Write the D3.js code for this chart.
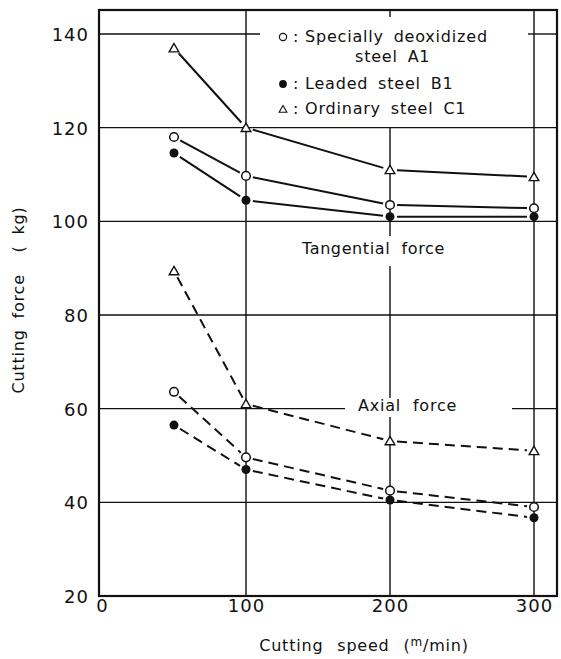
<!DOCTYPE html>
<html>
<head>
<meta charset="utf-8">
<script src="https://cdn.jsdelivr.net/npm/d3@7"></script>
<style>
  body { margin: 0; background: #fff; }
  text { font-family: "DejaVu Sans", sans-serif; fill: #111; white-space: pre; }
</style>
</head>
<body>
<div id="chart"></div>
<script>
// values
var speeds = [50, 100, 200, 300];
var tangA = [118, 109.7, 103.5, 102.8];
var tangB = [114.6, 104.5, 101, 101];
var tangC = [137, 120, 111, 109.5];
var axialA = [63.6, 49.6, 42.5, 39];
var axialB = [56.5, 47, 40.5, 36.7];
var axialC = [89.4, 61, 53.1, 51];
var xTicks = [0, 100, 200, 300];
var yTicks = [20, 40, 60, 80, 100, 120, 140];
var legendLabels = ["Specially deoxidized", "Leaded steel B1", "Ordinary steel C1"];

var svgWidth = 561, svgHeight = 659;
var frame = { left: 99, right: 557, top: 10, bottom: 596 };

var svg = d3.select("#chart").append("svg")
  .attr("width", svgWidth)
  .attr("height", svgHeight);

var x = d3.scaleLinear().domain([0, 300]).range([102, 534]);
var y = d3.scaleLinear().domain([20, 140]).range([596, 34]);

// grid lines with gaps where the labels sit
var hGaps = { 140: [[260, 528]], 60: [[345, 512]] };
var vGaps = { 200: [[17, 128], [236, 266], [398, 417]] };

function pieces(a, b, gaps) {
  var out = [], start = a;
  (gaps || []).forEach(function(g) {
    out.push([start, g[0]]);
    start = g[1];
  });
  out.push([start, b]);
  return out;
}

var grid = svg.append("g").attr("stroke", "#111").attr("stroke-width", 1.4);
yTicks.slice(1).forEach(function(t) {
  pieces(frame.left, frame.right, hGaps[t]).forEach(function(p) {
    grid.append("line")
      .attr("x1", p[0]).attr("x2", p[1])
      .attr("y1", y(t)).attr("y2", y(t));
  });
});
xTicks.slice(1).forEach(function(t) {
  pieces(frame.top, frame.bottom, vGaps[t]).forEach(function(p) {
    grid.append("line")
      .attr("x1", x(t)).attr("x2", x(t))
      .attr("y1", p[0]).attr("y2", p[1]);
  });
});

// frame
svg.append("rect")
  .attr("x", frame.left).attr("y", frame.top)
  .attr("width", frame.right - frame.left)
  .attr("height", frame.bottom - frame.top)
  .attr("fill", "none").attr("stroke", "#111").attr("stroke-width", 2.2);

// axes (labels only, the frame does the lines)
var leftAxis = d3.axisLeft(y).tickValues(yTicks).tickSize(0).tickPadding(0);
var bottomAxis = d3.axisBottom(x).tickValues(xTicks).tickSize(0).tickPadding(0);

var yAxis = svg.append("g").attr("transform", "translate(89,0)").call(leftAxis);
yAxis.select(".domain").remove();
yAxis.selectAll("text")
  .attr("font-size", 18).attr("dy", "0.36em").attr("x", 0)
  .style("letter-spacing", "1px")
  .style("font-family", "DejaVu Sans, sans-serif").attr("fill", "#111");

var xAxis = svg.append("g").attr("transform", "translate(0,598)").call(bottomAxis);
xAxis.select(".domain").remove();
xAxis.selectAll("text")
  .attr("font-size", 18).attr("dy", "0").attr("y", 14)
  .style("letter-spacing", "1px")
  .style("font-family", "DejaVu Sans, sans-serif").attr("fill", "#111");

// axis titles
svg.append("text")
  .attr("transform", "translate(24,300) rotate(-90)")
  .attr("text-anchor", "middle")
  .attr("font-size", 16)
  .style("letter-spacing", "0.8px")
  .style("word-spacing", "5px")
  .text("Cutting force  ( kg)");

var xt = svg.append("text")
  .attr("x", 364).attr("y", 651)
  .attr("text-anchor", "middle")
  .attr("font-size", 16)
  .style("letter-spacing", "0.8px")
  .style("word-spacing", "8px");
xt.append("tspan").text("Cutting speed (");
xt.append("tspan").attr("font-size", 12).attr("dy", -5).text("m");
xt.append("tspan").attr("dy", 5).text("/min)");

// curve labels
svg.append("text").attr("x", 302).attr("y", 254)
  .attr("font-size", 16).style("letter-spacing", "0.6px")
  .text("Tangential  force");
svg.append("text").attr("x", 358).attr("y", 411)
  .attr("font-size", 16).style("letter-spacing", "0.8px")
  .text("Axial  force");

// series
var series = [
  { vals: tangA, mark: "open", dash: null },
  { vals: tangB, mark: "filled", dash: null },
  { vals: tangC, mark: "tri", dash: null },
  { vals: axialA, mark: "open", dash: "10,6" },
  { vals: axialB, mark: "filled", dash: "10,6" },
  { vals: axialC, mark: "tri", dash: "10,6" }
];

var lines = svg.append("g");
var marks = svg.append("g");
var triPath = d3.symbol().type(d3.symbolTriangle).size(40);

function drawMark(g, kind, cx, cy) {
  if (kind === "open") {
    g.append("circle").attr("cx", cx).attr("cy", cy).attr("r", 4.3)
      .attr("fill", "#fff").attr("stroke", "#111").attr("stroke-width", 1.5);
  } else if (kind === "filled") {
    g.append("circle").attr("cx", cx).attr("cy", cy).attr("r", 4.5)
      .attr("fill", "#111");
  } else {
    g.append("path").attr("d", triPath)
      .attr("transform", "translate(" + cx + "," + (cy + 1) + ")")
      .attr("fill", "#fff").attr("stroke", "#111").attr("stroke-width", 1.4);
  }
}

series.forEach(function(s) {
  var pts = speeds.map(function(v, i) { return [x(v), y(s.vals[i])]; });
  for (var i = 0; i < pts.length - 1; i++) {
    var a = pts[i], b = pts[i + 1];
    var dx = b[0] - a[0], dy = b[1] - a[1];
    var len = Math.sqrt(dx * dx + dy * dy);
    var ux = dx / len, uy = dy / len, cut = 7;
    lines.append("line")
      .attr("x1", a[0] + ux * cut).attr("y1", a[1] + uy * cut)
      .attr("x2", b[0] - ux * cut).attr("y2", b[1] - uy * cut)
      .attr("stroke", "#111").attr("stroke-width", 2)
      .attr("stroke-dasharray", s.dash);
  }
  pts.forEach(function(p) { drawMark(marks, s.mark, p[0], p[1]); });
});

// legend
var legend = svg.append("g");
var legendRows = [
  { mark: "open", y: 37 },
  { mark: "filled", y: 84 },
  { mark: "tri", y: 109 }
];
legendRows.forEach(function(r, i) {
  if (r.mark === "tri") {
    legend.append("path").attr("d", d3.symbol().type(d3.symbolTriangle).size(26))
      .attr("transform", "translate(283," + (r.y + 1) + ")")
      .attr("fill", "#fff").attr("stroke", "#111").attr("stroke-width", 1.1);
  } else {
    legend.append("circle").attr("cx", 283).attr("cy", r.y)
      .attr("r", r.mark === "open" ? 3.6 : 3.9)
      .attr("fill", r.mark === "open" ? "#fff" : "#111")
      .attr("stroke", "#111").attr("stroke-width", r.mark === "open" ? 1.2 : 0);
  }
  legend.append("text").attr("x", 293).attr("y", r.y + 5)
    .attr("font-size", 16).text(":");
  legend.append("text").attr("x", 305).attr("y", r.y + 5)
    .attr("font-size", 16).style("letter-spacing", "0.8px")
    .style("word-spacing", "4px")
    .text(legendLabels[i]);
});
legend.append("text").attr("x", 355).attr("y", 62)
  .attr("font-size", 16).style("letter-spacing", "0.8px")
  .style("word-spacing", "4px").text("steel A1");
</script>
</body>
</html>
